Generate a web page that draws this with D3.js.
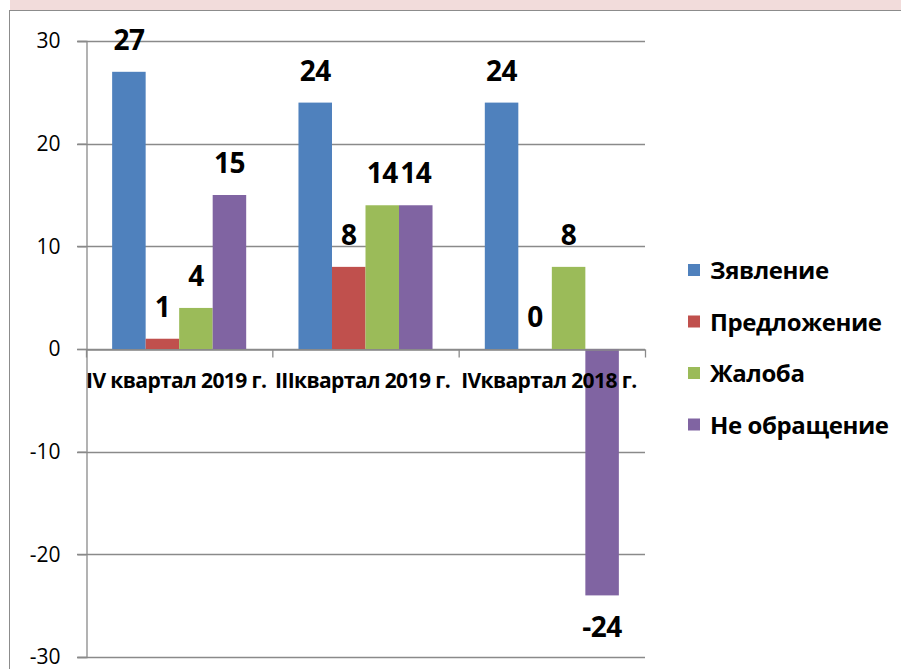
<!DOCTYPE html>
<html>
<head>
<meta charset="utf-8">
<script src="https://cdn.jsdelivr.net/npm/d3@7"></script>
<style>
	body { margin: 0; background: #fff; overflow: hidden; }
	svg { display: block; font-family: "Open Sans", sans-serif; }
</style>
</head>
<body>
<svg id="chart"></svg>
<script>
var categories = ["IV квартал 2019 г.", "IIIквартал 2019 г.", "IVквартал 2018 г."];
var seriesNames = ["Зявление", "Предложение", "Жалоба", "Не обращение"];
var zayavlenie = [27, 24, 24];
var predlozhenie = [1, 8, 0];
var zhaloba = [4, 14, 8];
var neObrashchenie = [15, 14, -24];
var yTicks = [-30, -20, -10, 0, 10, 20, 30];
var colors = ["#4f81bd", "#c0504d", "#9bbb59", "#8064a2"];

var seriesValues = [zayavlenie, predlozhenie, zhaloba, neObrashchenie];

var width = 901;
var height = 669;

var svg = d3.select("#chart")
	.attr("width", width)
	.attr("height", height);

// pink strip on top and chart frame
svg.append("rect")
	.attr("x", 10).attr("y", 0)
	.attr("width", width - 10).attr("height", 10)
	.attr("fill", "#f2dcdb");

svg.append("rect")
	.attr("x", 9.5).attr("y", 10.5)
	.attr("width", width + 10).attr("height", height + 10)
	.attr("fill", "#fff")
	.attr("stroke", "#8c8c8c")
	.attr("stroke-width", 1);

// scales
var x0 = d3.scaleBand()
	.domain(categories)
	.range([86, 645]);

var x1 = d3.scaleBand()
	.domain(seriesNames)
	.range([0, x0.bandwidth()])
	.paddingOuter(0.78);

var y = d3.scaleLinear()
	.domain([-30, 30])
	.range([657, 41]);

// gridlines
svg.append("g")
	.selectAll("line")
	.data(yTicks)
	.enter()
	.append("line")
	.attr("x1", 77)
	.attr("x2", 645)
	.attr("y1", function(d) { return Math.round(y(d)) + 0.5; })
	.attr("y2", function(d) { return Math.round(y(d)) + 0.5; })
	.attr("stroke", "#8a8a8a")
	.attr("stroke-width", 1.3);

// y axis
var yAxis = d3.axisLeft(y)
	.tickValues(yTicks)
	.tickSize(9)
	.tickPadding(17)
	.tickFormat(function(d) { return String(d); });

var yAxisG = svg.append("g")
	.attr("transform", "translate(86.5,0)")
	.call(yAxis);
yAxisG.select(".domain").attr("stroke", "#8a8a8a").attr("stroke-width", 1.3);
yAxisG.selectAll(".tick line").attr("stroke", "#8a8a8a").attr("stroke-width", 1.3);
yAxisG.selectAll(".tick text")
	.attr("font-family", "Open Sans, sans-serif")
	.attr("font-size", 21)
	.attr("fill", "#000");

// bars
var groups = svg.append("g")
	.selectAll("g")
	.data(categories)
	.enter()
	.append("g")
	.attr("transform", function(d) { return "translate(" + x0(d) + ",0)"; });

groups.selectAll("rect")
	.data(function(d, i) {
		return seriesNames.map(function(s, j) {
			return { series: s, value: seriesValues[j][i], color: colors[j] };
		});
	})
	.enter()
	.append("rect")
	.attr("x", function(d) { return x1(d.series); })
	.attr("width", x1.bandwidth())
	.attr("y", function(d) { return y(Math.max(0, d.value)); })
	.attr("height", function(d) { return Math.abs(y(d.value) - y(0)); })
	.attr("fill", function(d) { return d.color; });

// value labels
groups.selectAll("text")
	.data(function(d, i) {
		return seriesNames.map(function(s, j) {
			return { series: s, value: seriesValues[j][i] };
		});
	})
	.enter()
	.append("text")
	.attr("x", function(d) { return x1(d.series) + x1.bandwidth() / 2; })
	.attr("y", function(d) {
		return d.value >= 0 ? y(d.value) - 22 : y(d.value) + 42;
	})
	.attr("text-anchor", "middle")
	.attr("font-size", 28)
	.attr("font-weight", "bold")
	.attr("letter-spacing", -0.5)
	.text(function(d) { return d.value; });

// x axis at zero
var xAxis = d3.axisBottom(x0)
	.tickSize(0)
	.tickFormat("");

var xAxisG = svg.append("g")
	.attr("transform", "translate(0," + (Math.round(y(0)) + 0.5) + ")")
	.call(xAxis);
xAxisG.select(".domain").attr("stroke", "#8a8a8a").attr("stroke-width", 1.3);

// category boundary ticks
xAxisG.selectAll(".cat-tick")
	.data([0, 1, 2, 3])
	.enter()
	.append("line")
	.attr("x1", function(d) { return 86.5 + d * x0.step(); })
	.attr("x2", function(d) { return 86.5 + d * x0.step(); })
	.attr("y1", 0)
	.attr("y2", 8)
	.attr("stroke", "#8a8a8a")
	.attr("stroke-width", 1.3);

// category labels
svg.append("g")
	.selectAll("text")
	.data(categories)
	.enter()
	.append("text")
	.attr("x", function(d) { return x0(d) + x0.bandwidth() / 2 - 3; })
	.attr("y", y(0) + 39)
	.attr("text-anchor", "middle")
	.attr("font-size", 21)
	.attr("font-weight", "bold")
	.attr("letter-spacing", -0.6)
	.text(function(d) { return d; });

// legend
var legend = svg.append("g")
	.selectAll("g")
	.data(seriesNames)
	.enter()
	.append("g")
	.attr("transform", function(d, i) { return "translate(688," + (270 + i * 51.5) + ")"; });

legend.append("rect")
	.attr("x", 0)
	.attr("y", -6)
	.attr("width", 12)
	.attr("height", 12)
	.attr("fill", function(d, i) { return colors[i]; });

legend.append("text")
	.attr("x", 22)
	.attr("y", 9)
	.attr("font-size", 24)
	.attr("font-weight", "bold")
	.attr("letter-spacing", -0.4)
	.text(function(d) { return d; });
</script>
</body>
</html>
